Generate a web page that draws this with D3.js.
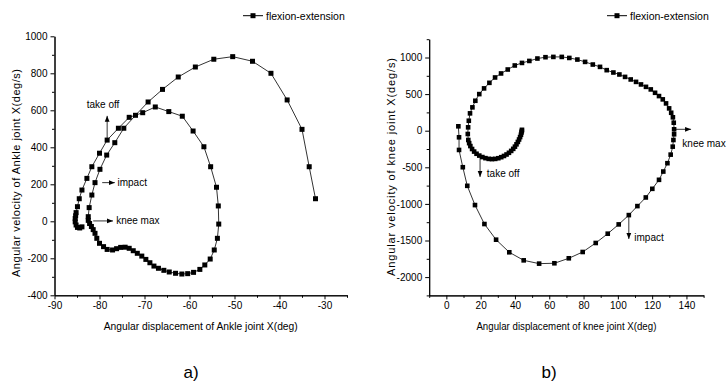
<!DOCTYPE html>
<html>
<head>
<meta charset="utf-8">
<script src="https://cdn.jsdelivr.net/npm/d3@7"></script>
<style>
body { margin: 0; background: #fff; }
text { font-family: "Liberation Sans", Arial, sans-serif; fill: #000; }
</style>
</head>
<body>
<div id="chart-area"></div>
<script>

// ankle joint (panel a): displacement (deg) / velocity (deg/s)
var ankleX = [-83.9, -84.4, -84.9, -85.2, -85.4, -85.4, -85.3, -85.2, -84.9, -84.5, -83.9, -82.8, -81.7, -80.0,
  -78.3, -75.8, -73.4, -70.4, -67.6, -64.6, -61.6, -59.2, -56.8, -55.3, -54.0, -53.6, -53.5, -53.8, -54.5,
  -55.4, -56.6, -57.7, -59.1, -60.4, -61.7, -63.1, -64.5, -65.7, -66.9, -67.9, -68.8, -69.7, -70.6, -71.6,
  -72.5, -73.4, -74.3, -75.3, -76.2, -77.1, -78.3, -79.1, -80.0, -80.6, -81.0, -81.4, -81.8, -82.2, -82.5,
  -82.5, -82.3, -81.7, -81.0, -79.9, -78.4, -76.6, -74.6, -72.0, -69.2, -66.0, -62.5, -58.7, -54.6, -50.4,
  -46.0, -41.9, -38.3, -35.0, -33.4, -32.0];
var ankleY = [-30, -36, -33, -20, -3, 15, 30, 47, 79, 122, 169, 232, 295, 368,
  439, 503, 562, 587, 618, 593, 568, 488, 403, 295, 184, 83, -15, -92, -155,
  -204, -236, -260, -276, -283, -285, -281, -274, -265, -254, -242, -224, -206, -188, -173,
  -159, -146, -140, -141, -148, -155, -152, -137, -119, -92, -65, -45, -28, -12, 5,
  25, 74, 142, 209, 281, 358, 425, 503, 573, 645, 713, 780, 834, 876, 890,
  865, 800, 656, 497, 295, 122];

// knee joint (panel b)
var kneeX = [7.0, 7.4, 7.4, 9.6, 12.2, 16.7, 22.2, 29.0, 36.7, 45.1, 54.1, 63.0, 71.4, 79.5, 87.1, 94.1,
  100.5, 106.4, 111.4, 116.3, 120.1, 124.0, 126.5, 128.9, 130.8, 132.0, 132.4, 132.8, 132.8, 132.6, 132.1,
  131.1, 129.9, 128.1, 126.2, 124.0, 121.7, 119.2, 116.4, 113.5, 110.6, 107.5, 104.2, 100.9, 97.4, 93.5,
  89.6, 85.4, 80.9, 76.4, 71.7, 67.3, 62.4, 57.8, 53.1, 48.4, 44.1, 39.9, 35.8, 31.9, 28.4, 25.1, 22.0,
  19.2, 16.9, 15.2, 13.8, 13.1, 12.7, 12.5, 12.8, 13.3, 14.0, 15.0, 16.2, 17.6, 19.2, 21.0, 22.8, 24.7,
  26.6, 28.5, 30.3, 32.0, 33.6, 35.1, 36.5, 37.8, 39.0, 40.0, 40.9, 41.7, 42.4, 43.0, 43.5, 43.8, 44.0, 44.1];
var kneeY = [60, -90, -263, -499, -753, -1016, -1275, -1489, -1661, -1771, -1816, -1811, -1743, -1657, -1534, -1407,
  -1280, -1153, -1030, -912, -794, -671, -558, -444, -327, -218, -127, -49, 19, 109, 183,
  245, 305, 373, 428, 473, 518, 564, 599, 632, 667, 700, 735, 768, 795, 827,
  872, 904, 940, 972, 994, 1008, 1008, 1004, 986, 953, 926, 891, 836, 782, 727, 654, 578,
  500, 409, 319, 237, 136, 46, -45, -127, -170, -210, -250, -285, -315, -340, -360, -375, -385,
  -388, -385, -376, -362, -345, -325, -302, -276, -248, -218, -186, -153, -120, -87, -55, -25, -5, 12];

var ankleXTicks = [-90, -80, -70, -60, -50, -40, -30];
var ankleYTicks = [-400, -200, 0, 200, 400, 600, 800, 1000];
var kneeXTicks = [0, 20, 40, 60, 80, 100, 120, 140];
var kneeYTicks = [-2000, -1500, -1000, -500, 0, 500, 1000];

var legendLabel = "flexion-extension";

var svg = d3.select("#chart-area").append("svg")
    .attr("width", 727)
    .attr("height", 387);

svg.append("defs").append("marker")
    .attr("id", "arrow")
    .attr("viewBox", "0 0 10 10")
    .attr("refX", 10).attr("refY", 5)
    .attr("markerWidth", 6).attr("markerHeight", 6)
    .attr("markerUnits", "userSpaceOnUse")
    .attr("orient", "auto")
  .append("path")
    .attr("d", "M0,1 L10,5 L0,9 Z")
    .attr("fill", "#000");

function range(a, b, step) {
  var out = [];
  for (var v = a; v <= b + 1e-9; v += step) out.push(v);
  return out;
}

// plain labels: no thousands comma, ascii hyphen for negatives
var plain = function(d) { return String(d); };

function drawPanel(p) {
  var x = d3.scaleLinear().domain(p.xDomain).range(p.xRange);
  var y = d3.scaleLinear().domain(p.yDomain).range(p.yRange);
  var g = svg.append("g");

  // minor ticks
  g.append("g")
    .attr("transform", "translate(0," + p.yRange[0] + ")")
    .call(d3.axisBottom(x).tickValues(p.xMinor).tickFormat("").tickSize(2.5).tickSizeOuter(0));
  g.append("g")
    .attr("transform", "translate(" + p.xRange[0] + ",0)")
    .call(d3.axisLeft(y).tickValues(p.yMinor).tickFormat("").tickSize(2.5).tickSizeOuter(0));

  g.append("g")
    .attr("transform", "translate(0," + p.yRange[0] + ")")
    .call(d3.axisBottom(x).tickValues(p.xTicks).tickFormat(plain).tickSize(4).tickSizeOuter(0).tickPadding(3));
  g.append("g")
    .attr("transform", "translate(" + p.xRange[0] + ",0)")
    .call(d3.axisLeft(y).tickValues(p.yTicks).tickFormat(plain).tickSize(4).tickSizeOuter(0).tickPadding(3));

  g.selectAll(".domain").attr("stroke", "#000").attr("stroke-width", 1);
  g.selectAll(".tick line").attr("stroke", "#000");
  g.selectAll(".tick text").style("font-family", '"Liberation Sans", Arial, sans-serif')
    .style("font-size", "10px");

  // axis titles
  g.append("text")
    .attr("x", (p.xRange[0] + p.xRange[1]) / 2)
    .attr("y", p.xTitleY)
    .attr("text-anchor", "middle")
    .attr("textLength", p.xTitleLen)
    .attr("lengthAdjust", "spacingAndGlyphs")
    .style("font-size", "10.5px")
    .text(p.xTitle);
  g.append("text")
    .attr("transform", "translate(" + p.yTitleX + "," + p.yTitleMid + ") rotate(-90)")
    .attr("text-anchor", "middle")
    .attr("textLength", p.yTitleLen)
    .attr("lengthAdjust", "spacing")
    .style("font-size", "11px")
    .text(p.yTitle);

  var pts = p.xs.map(function(d, i) { return [d, p.ys[i]]; });

  g.append("path")
    .datum(pts)
    .attr("fill", "none")
    .attr("stroke", "#000")
    .attr("stroke-width", 0.8)
    .attr("d", d3.line().x(function(d) { return x(d[0]); }).y(function(d) { return y(d[1]); }));

  g.selectAll("rect.pt").data(pts).enter().append("rect")
    .attr("class", "pt")
    .attr("x", function(d) { return x(d[0]) - p.sq / 2; })
    .attr("y", function(d) { return y(d[1]) - p.sq / 2; })
    .attr("width", p.sq)
    .attr("height", p.sq)
    .attr("fill", "#000");

  // annotations (arrow + label), given in data units
  p.notes.forEach(function(n) {
    g.append("line")
      .attr("x1", x(n.from[0])).attr("y1", y(n.from[1]))
      .attr("x2", x(n.to[0])).attr("y2", y(n.to[1]))
      .attr("stroke", "#000").attr("stroke-width", 0.8)
      .attr("marker-end", "url(#arrow)");
    g.append("text")
      .attr("x", x(n.at[0])).attr("y", y(n.at[1]))
      .attr("text-anchor", n.anchor || "start")
      .style("font-size", "10px")
      .text(n.label);
  });

  // legend
  var lg = svg.append("g").attr("transform", "translate(" + p.legend[0] + "," + p.legend[1] + ")");
  lg.append("line").attr("x1", 0).attr("x2", 20).attr("stroke", "#000").attr("stroke-width", 1);
  lg.append("rect").attr("x", 7.5).attr("y", -2.5).attr("width", 5).attr("height", 5).attr("fill", "#000");
  lg.append("text").attr("x", 23).attr("y", 3.8).style("font-size", "10.5px").text(legendLabel);

  svg.append("text")
    .attr("x", p.tag[0]).attr("y", p.tag[1])
    .attr("text-anchor", "middle")
    .style("font-size", "17px")
    .text(p.tagText);
}

drawPanel({
  xs: ankleX, ys: ankleY,
  xDomain: [-90, -25], xRange: [54.5, 347],
  yDomain: [-400, 1000], yRange: [295.3, 36.3],
  xTicks: ankleXTicks, yTicks: ankleYTicks,
  xMinor: range(-85, -25, 10), yMinor: range(-300, 900, 200),
  xTitle: "Angular displacement of Ankle joint X(deg)",
  yTitle: "Angular velocity of Ankle joint X(deg/s)",
  xTitleY: 330, xTitleLen: 194,
  yTitleX: 20, yTitleMid: 173, yTitleLen: 208,
  sq: 5,
  legend: [243, 15.7],
  tag: [191, 378], tagText: "a)",
  notes: [
    {from: [-78.3, 439], to: [-78.3, 570], at: [-79.2, 610], anchor: "middle", label: "take off"},
    {from: [-79.4, 209], to: [-76.6, 209], at: [-76.0, 190], label: "impact"},
    {from: [-81.4, 2], to: [-77.0, 2], at: [-76.3, -17], label: "knee max"}
  ]
});

drawPanel({
  xs: kneeX, ys: kneeY,
  xDomain: [-10, 150], xRange: [429.2, 703.6],
  yDomain: [-2250, 1250], yRange: [295.4, 39.2],
  xTicks: kneeXTicks, yTicks: kneeYTicks,
  xMinor: range(-10, 150, 20), yMinor: range(-2250, 1250, 500),
  xTitle: "Angular displacement of knee joint X(deg)",
  yTitle: "Angular velocity of knee joint X(deg/s)",
  xTitleY: 330, xTitleLen: 180,
  yTitleX: 395, yTitleMid: 167, yTitleLen: 218,
  sq: 4.6,
  legend: [607, 15.7],
  tag: [549, 378], tagText: "b)",
  notes: [
    {from: [132.8, 19], to: [142.7, 19], at: [137.6, -222], label: "knee max"},
    {from: [19.65, -372], to: [19.65, -631], at: [23.6, -631], label: "take off"},
    {from: [106.4, -1162], to: [106.4, -1479], at: [109.6, -1509], label: "impact"}
  ]
});

</script>
</body>
</html>
